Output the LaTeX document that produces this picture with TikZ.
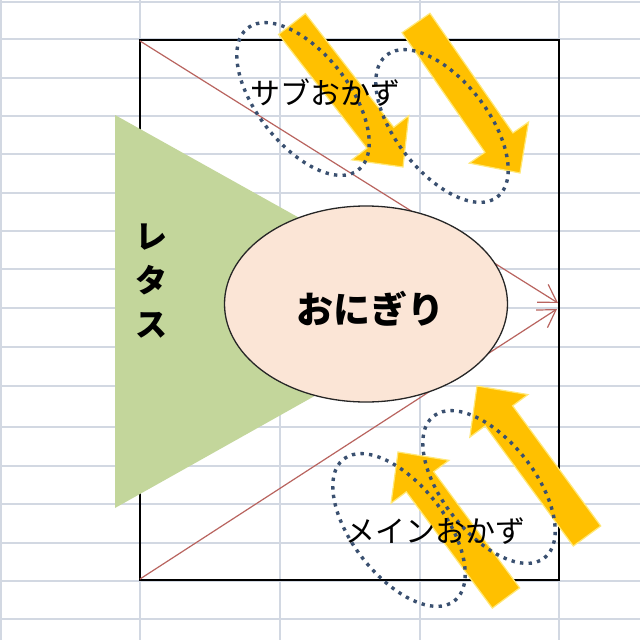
\documentclass[tikz,border=0pt]{standalone}
\usepackage{fontspec}
\newfontfamily\jp{Noto Sans CJK JP}
\usetikzlibrary{shapes.geometric, arrows.meta, calc}
\definecolor{gridc}{RGB}{210,216,226}
\definecolor{leaf}{RGB}{195,214,155}
\definecolor{rice}{RGB}{251,229,214}
\definecolor{gold}{RGB}{255,192,0}
\definecolor{glow}{RGB}{255,232,120}
\definecolor{redl}{RGB}{185,100,95}
\definecolor{dotc}{RGB}{58,80,112}
\tikzset{
  gridline/.style={draw=gridc, line width=1.3pt},
  redline/.style={draw=redl, line width=1.2pt, -{Straight Barb[length=17pt,width=21pt]}},
  fatstyle/.style={fill=gold, draw=glow, line width=1.2pt, line join=miter},
  dotring/.style={draw=dotc, ellipse, minimum width=180pt, minimum height=92pt, inner sep=0pt,
    line width=3.4pt, dash pattern=on 3.4pt off 5.2pt, rotate=-52},
  label/.style={font=\jp\fontsize{30}{30}\selectfont, inner sep=0pt}
}
\newcommand\fatarrow[3]{%
  \coordinate (#1t) at (#2);
  \coordinate (#1p) at (#3);
  \coordinate (#1b) at ($(#1p)!37pt!(#1t)$);
  \filldraw[fatstyle] ($(#1t)!17pt!90:(#1p)$) -- ($(#1b)!17pt!90:(#1p)$) -- ($(#1b)!36pt!90:(#1p)$)
    -- (#1p) -- ($(#1b)!36pt!-90:(#1p)$) -- ($(#1b)!17pt!-90:(#1p)$) -- ($(#1t)!17pt!-90:(#1p)$) -- cycle;
}
\begin{document}
\begin{tikzpicture}[x=1pt, y=-1pt]
\useasboundingbox (0,0) rectangle (640,640);
\fill[white] (0,0) rectangle (640,640);
% spreadsheet grid
\foreach \y in {2,39,78,116,154,193,231,269,308,347,386,427,466,504,543,581,619}
  \draw[gridline] (0,\y) -- (640,\y);
\foreach \x in {1,140,280,420,559}
  \draw[gridline] (\x,0) -- (\x,640);
% frame
\draw[black, line width=1.5pt] (140,40) rectangle (559,580);
% red lines
\coordinate (rtl) at (140,41);
\coordinate (rbl) at (140,579);
\coordinate (tipA) at (558,303);
\coordinate (tipB) at (557,309);
\draw[redline] (rtl) -- (tipA);
\draw[redline] (rbl) -- (tipB);
% lettuce triangle
\fill[leaf] (115,115) -- (466,311) -- (115,508) -- cycle;
% rice ball
\node[ellipse, draw=black!85, fill=rice, line width=1.3pt, minimum width=283pt, minimum height=196pt, inner sep=0pt] (rice) at (366,304) {};
\node[font=\jp\bfseries\fontsize{37}{37}\selectfont, inner sep=0pt] (onigiri) at (370,309) {おにぎり};
\node[font=\jp\bfseries\fontsize{32}{44}\selectfont, align=center, inner sep=0pt] (lettuce) at (151,281) {レ\\タ\\ス};
% fat arrows
\fatarrow{aa}{292,24}{403,167}
\fatarrow{ab}{416,23}{520,173}
\fatarrow{ac}{506,598}{398,452}
\fatarrow{ad}{587,536}{477,386}
% dotted rings
\node[dotring] (ring1) at (303,99) {};
\node[dotring] (ring2) at (442,126) {};
\node[dotring] (ring3) at (399,530) {};
\node[dotring] (ring4) at (489,487) {};
% labels
\node[label] (sub) at (325,93) {サブおかず};
\node[label] (main) at (435,531) {メインおかず};
\end{tikzpicture}
\end{document}
